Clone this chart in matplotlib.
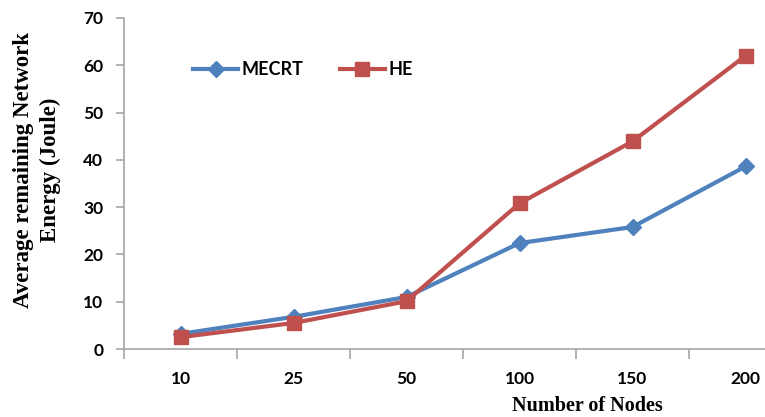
import matplotlib
matplotlib.use('Agg')
import matplotlib.pyplot as plt
import numpy as np

# data
nodes = ['10', '25', '50', '100', '150', '200']
mecrt = [3.2, 6.8, 11.0, 22.4, 25.8, 38.6]
he = [2.5, 5.5, 10.1, 30.8, 43.9, 62.0]

blue = '#4F81BD'
red = '#C0504D'
axis_grey = '#A6A6A6'

fig = plt.figure(figsize=(7.65, 4.17), dpi=100)
# plot area is cut off on the right in the original
ax = fig.add_axes([124 / 765, 68 / 417, 678 / 765, 331 / 417])

x = np.arange(len(nodes))
ax.plot(x, mecrt, color=blue, lw=3, marker='D', ms=8, label='MECRT')
ax.plot(x, he, color=red, lw=3, marker='s', ms=10, label='HE')

ax.set_xlim(-0.5, len(nodes) - 0.5)
ax.set_ylim(0, 70)
ax.set_yticks(np.arange(0, 71, 10))
ax.set_xticks(x)
ax.set_xticklabels(nodes)
ax.set_xticks(np.arange(-0.5, len(nodes), 1), minor=True)

for s in ['top', 'right']:
    ax.spines[s].set_visible(False)
for s in ['left', 'bottom']:
    ax.spines[s].set_color(axis_grey)
    ax.spines[s].set_linewidth(1.2)

ax.tick_params(axis='x', which='major', length=0, pad=16)
ax.tick_params(axis='x', which='minor', length=7, color=axis_grey, width=1.2)
ax.tick_params(axis='y', length=6, color=axis_grey, width=1.2, pad=9)
for lab in ax.get_xticklabels() + ax.get_yticklabels():
    lab.set_fontfamily('Lato')
    lab.set_fontweight('bold')
    lab.set_fontsize(12.5)

ax.set_xlabel('Number of Nodes', family='Liberation Serif', weight='bold',
              fontsize=14.5, va='center')
ax.xaxis.set_label_coords(463 / 678, -57 / 331)
ax.set_ylabel('Average remaining Network\nEnergy (Joule)', family='Liberation Serif',
              weight='bold', fontsize=16.5, linespacing=1.35, va='center')
ax.yaxis.set_label_coords(-87 / 678, 0.54)

leg = ax.legend(loc='center left', bbox_to_anchor=(69 / 678, 0.843), ncol=2,
                frameon=False, handlelength=2.5, handletextpad=0.2,
                columnspacing=2.0, borderpad=0, borderaxespad=0,
                prop={'family': 'Lato', 'weight': 'bold', 'size': 13})

fig.savefig('out.png', dpi=100)
